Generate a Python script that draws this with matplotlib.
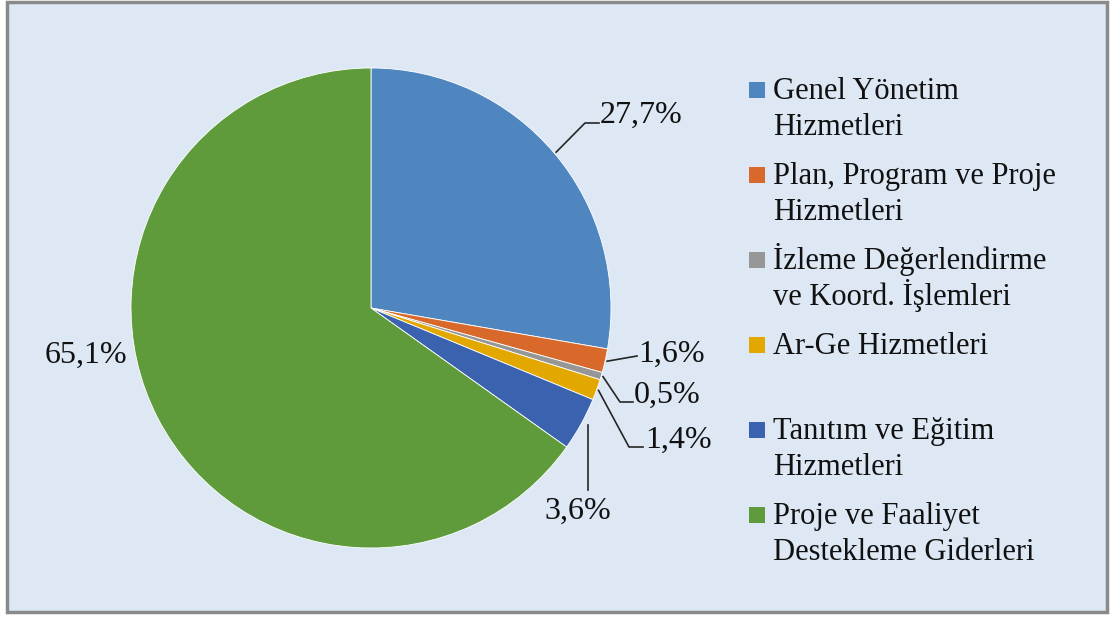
import matplotlib
matplotlib.use("Agg")
import matplotlib.pyplot as plt
from matplotlib.patches import Rectangle
import numpy as np

categories = [
    "Genel Yönetim\nHizmetleri",
    "Plan, Program ve Proje\nHizmetleri",
    "İzleme Değerlendirme\nve Koord. İşlemleri",
    "Ar-Ge Hizmetleri",
    "Tanıtım ve Eğitim\nHizmetleri",
    "Proje ve Faaliyet\nDestekleme Giderleri",
]
values = [27.7, 1.6, 0.5, 1.4, 3.6, 65.1]
value_labels = ["27,7%", "1,6%", "0,5%", "1,4%", "3,6%", "65,1%"]
colors = ["#4F86C0", "#D8692B", "#969696", "#E2A800", "#3A62AF", "#5F9A3B"]

W, H = 1115, 617
BG = "#DDE8F4"
plt.rcParams["font.family"] = ["Liberation Serif", "DejaVu Serif"]

fig = plt.figure(figsize=(W / 100, H / 100), dpi=100)
fig.patch.set_facecolor("white")
ax = fig.add_axes([0, 0, 1, 1])


def P(x, y):
    return (x, H - y)


# frame / background
x0, y0 = P(7, 612)
ax.add_patch(Rectangle((x0, y0), 1100, 610, facecolor=BG, edgecolor="#8A8A8A",
                       linewidth=2.5, zorder=0))

cx, cy, R = 371, 308, 240
wedges, _ = ax.pie(values, colors=colors, startangle=90, counterclock=False,
                   center=P(cx, cy), radius=R,
                   wedgeprops=dict(edgecolor="white", linewidth=0.6))
ax.set_xlim(0, W)
ax.set_ylim(0, H)
ax.set_aspect("equal")
ax.axis("off")

total = sum(values)
cum = np.cumsum([0] + values[:-1]) / total
mids = cum + np.array(values) / total / 2


def edge_pt(i, r=R + 2):
    ang = 2 * np.pi * mids[i]
    return (cx + r * np.sin(ang), cy - r * np.cos(ang))


label_fs = 23
leaders = {
    0: [(585, 123), (599, 123)],
    1: [(637, 356)],
    2: [(620, 402), (633, 402)],
    3: [(629, 447), (643, 447)],
    4: [(588, 490)],
}
text_pos = {
    0: (600, 123, "left"),
    1: (638, 362, "left"),
    2: (634, 403, "left"),
    3: (645, 448, "left"),
    4: (578, 519, "center"),
    5: (86, 363, "center"),
}
for i, pts in leaders.items():
    s = edge_pt(i)
    if i == 4:
        s = (588, s[1])
    path = [s] + pts
    xs = [p[0] for p in path]
    ys = [H - p[1] for p in path]
    ax.plot(xs, ys, color="#262626", linewidth=1.2, zorder=3)

for i, (tx, ty, ha) in text_pos.items():
    ax.text(*P(tx, ty), value_labels[i], fontsize=label_fs, ha=ha,
            va="baseline", color="#111111", zorder=4)

leg_x = 749
txt_x = 773
base0 = 99
step = 85
for i, (lab, col) in enumerate(zip(categories, colors)):
    b = base0 + step * i
    sq = 16
    ax.add_patch(Rectangle(P(leg_x, b - 1), sq, sq, facecolor=col,
                           edgecolor="none", zorder=3))
    for j, line in enumerate(lab.split("\n")):
        ax.text(*P(txt_x, b + 36 * j), line, fontsize=22, ha="left",
                va="baseline", color="#111111", zorder=4)

fig.savefig("out.png", dpi=100, facecolor="white")
